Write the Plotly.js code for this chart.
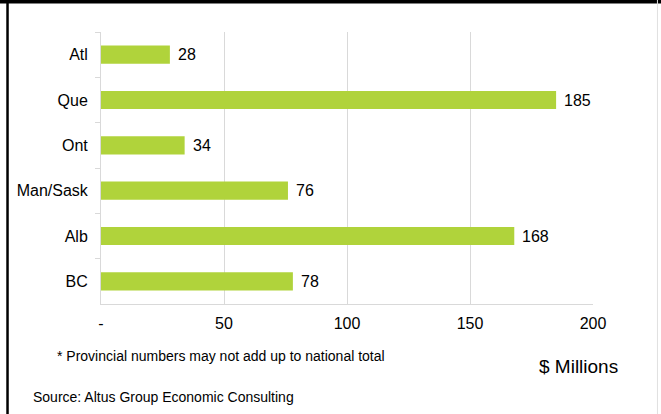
<!DOCTYPE html>
<html>
<head>
<meta charset="utf-8">
<script src="https://cdn.plot.ly/plotly-3.0.1.min.js"></script>
<style>
  html, body { margin: 0; padding: 0; background: #fff; }
  #chart { width: 661px; height: 414px; }
</style>
</head>
<body>
<div id="chart"></div>
<script>
const categories = ["Atl", "Que", "Ont", "Man/Sask", "Alb", "BC"];
const values = [28, 185, 34, 76, 168, 78];
const xTickVals = [0, 50, 100, 150, 200];
const xTickText = ["-", "50", "100", "150", "200"];
const noteText = "* Provincial numbers may not add up to national total";
const unitText = "$ Millions";
const sourceText = "Source: Altus Group Economic Consulting";

const barColor = "#b0d33b";
const gridColor = "#d9d9d9";
const axisFont = { family: "Liberation Sans, Arial, sans-serif", size: 16, color: "#000" };
const noteFont = "Liberation Sans, Arial, sans-serif";

const trace = {
  type: "bar",
  orientation: "h",
  x: values,
  y: categories,
  marker: { color: barColor },
  hoverinfo: "skip"
};

const valueLabels = values.map((v, i) => ({
  x: v, y: categories[i], xref: "x", yref: "y",
  text: String(v), showarrow: false, xanchor: "left", yanchor: "middle",
  xshift: 6, font: axisFont
}));

const layout = {
  width: 661, height: 414,
  margin: { l: 101, r: 68, t: 32, b: 110 },
  paper_bgcolor: "#fff", plot_bgcolor: "#fff",
  showlegend: false,
  bargap: 0.6,
  xaxis: {
    range: [0, 200], tickvals: xTickVals, ticktext: xTickText,
    showgrid: true, gridcolor: gridColor, gridwidth: 1,
    zeroline: false, showline: true, linecolor: gridColor, linewidth: 1,
    ticks: "", tickfont: axisFont, ticklabelstandoff: 5, fixedrange: true
  },
  yaxis: {
    type: "category", autorange: "reversed",
    showgrid: false, zeroline: false, showline: true, linecolor: gridColor, linewidth: 1,
    ticks: "outside", tickson: "boundaries", ticklen: 5, tickcolor: gridColor,
    tickfont: axisFont, ticklabelstandoff: 9, fixedrange: true
  },
  annotations: valueLabels.concat([
    { xref: "paper", yref: "paper", x: -0.094, y: -0.19, xanchor: "left", yanchor: "middle",
      text: noteText, showarrow: false, font: { family: noteFont, size: 14, color: "#000" } },
    { xref: "paper", yref: "paper", x: 1.055, y: -0.228, xanchor: "right", yanchor: "middle",
      text: unitText, showarrow: false, font: { family: noteFont, size: 19, color: "#000" } },
    { xref: "paper", yref: "paper", x: -0.142, y: -0.343, xanchor: "left", yanchor: "middle",
      text: sourceText, showarrow: false, font: { family: noteFont, size: 14, color: "#000" } }
  ]),
  shapes: [
    { type: "rect", xref: "paper", yref: "paper", x0: -0.3, x1: 1.3, y0: 1.105, y1: 1.2,
      fillcolor: "#000", line: { width: 0 } },
    { type: "line", xref: "paper", yref: "paper", x0: -0.19, x1: -0.19, y0: -0.5, y1: 1.2,
      line: { color: "#000", width: 2.5 } },
    { type: "line", xref: "paper", yref: "paper", x0: 1.131, x1: 1.131, y0: -0.5, y1: 1.2,
      line: { color: "#e0e0e0", width: 1 } }
  ]
};

Plotly.newPlot("chart", [trace], layout, { staticPlot: true, displayModeBar: false });
</script>
</body>
</html>
